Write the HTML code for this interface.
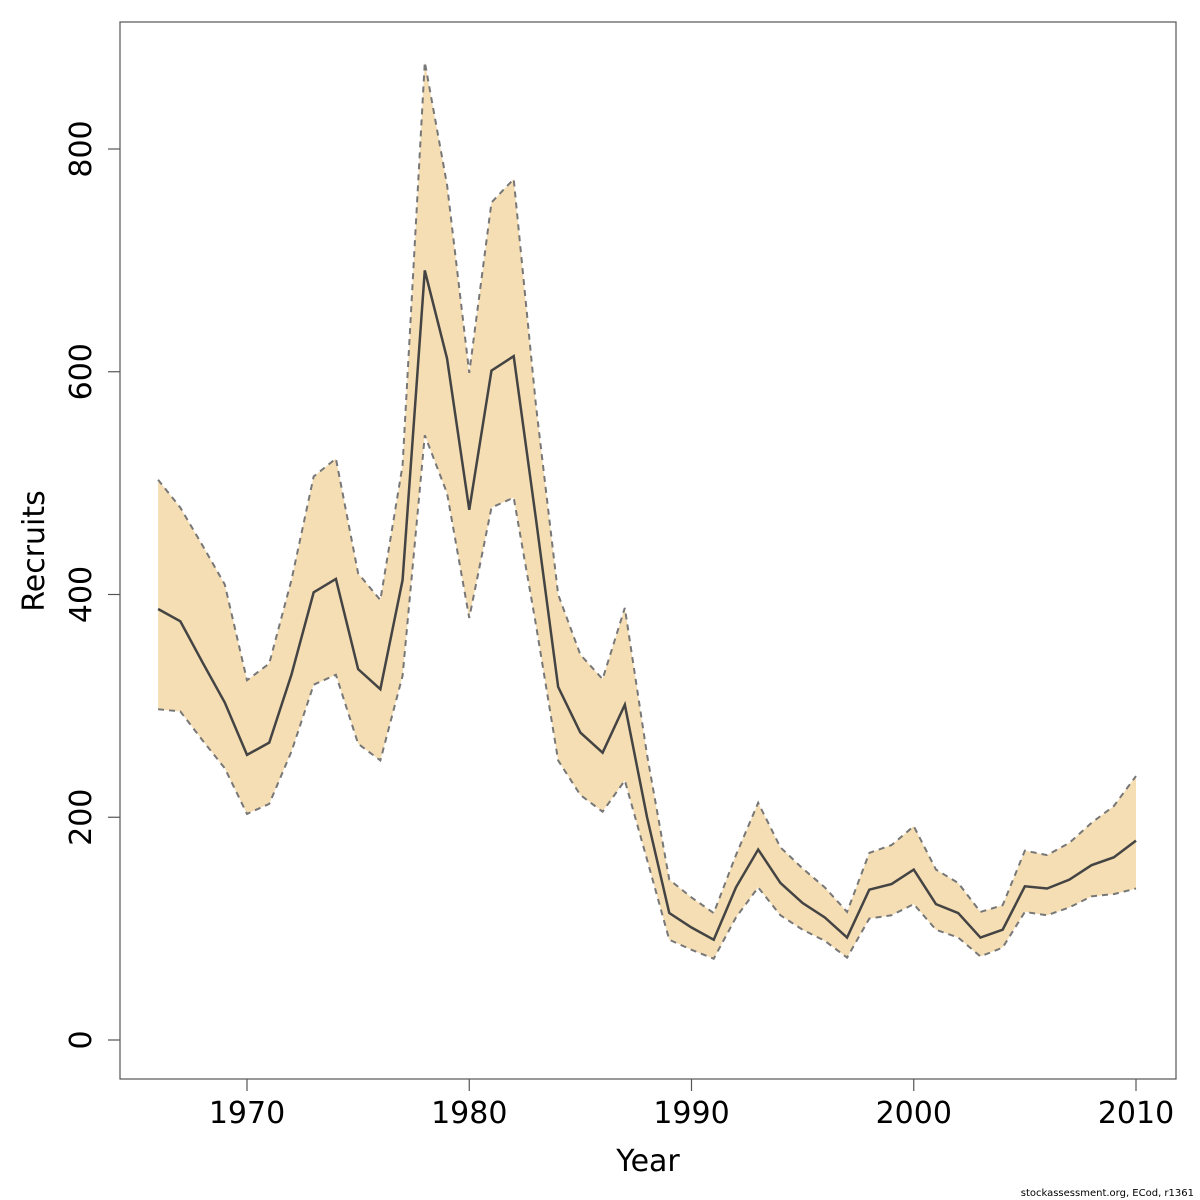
<!DOCTYPE html>
<html><head><meta charset="utf-8"><style>
html,body{margin:0;padding:0;background:#fff;}
svg{display:block;font-family:"DejaVu Sans","Liberation Sans",sans-serif;}
</style></head><body>
<svg id="chart" width="1200" height="1200" viewBox="0 0 1200 1200" xmlns="http://www.w3.org/2000/svg">
<rect x="0" y="0" width="1200" height="1200" fill="#fff"/>
<g id="plot"></g>
<rect x="120" y="22" width="1056" height="1057" fill="none" stroke="#555" stroke-width="1.2"/>
<g id="axes"></g>
<text x="648" y="1171" font-size="30" text-anchor="middle" fill="#000">Year</text>
<text x="0" y="0" font-size="30" text-anchor="middle" fill="#000" transform="translate(44,551) rotate(-90)">Recruits</text>
<text x="1194" y="1196" font-size="10" text-anchor="end" fill="#000">stockassessment.org, ECod, r1361</text>
</svg>
<script>
const years = [1966,1967,1968,1969,1970,1971,1972,1973,1974,1975,1976,1977,1978,1979,1980,1981,1982,1983,1984,1985,1986,1987,1988,1989,1990,1991,1992,1993,1994,1995,1996,1997,1998,1999,2000,2001,2002,2003,2004,2005,2006,2007,2008,2009,2010];
const estimate = [387,376,339,303,256,267,328,402,414,333,315,413,691,612,476,601,614,468,317,276,258,301,200,114,101,90,137,171,141,123,110,92,135,140,153,122,114,92,99,138,136,144,157,164,179];
const upper = [503,478,444,409,323,338,413,506,522,419,395,516,878,768,599,752,773,570,400,346,324,388,256,144,128,114,166,213,173,154,137,115,168,175,192,153,141,115,121,170,166,177,195,210,237];
const lower = [297,295,269,244,203,212,259,319,328,266,251,327,543,491,379,478,487,373,251,220,205,233,162,90,81,73,110,137,112,99,89,74,109,112,122,99,92,75,83,115,112,119,129,131,136];
const xTicks = [1970,1980,1990,2000,2010];
const yTicks = [0,200,400,600,800];

const NS='http://www.w3.org/2000/svg';
function xs(v){return 247+(v-1970)*(1136-247)/40;}
function ys(v){return 1040-v*(1040-149)/800;}
const plot=document.getElementById('plot');
const axes=document.getElementById('axes');
function mk(tag,attrs,parent){const e=document.createElementNS(NS,tag);for(const k in attrs)e.setAttribute(k,attrs[k]);parent.appendChild(e);return e;}

let bandD='M'+years.map((y,i)=>xs(y)+','+ys(upper[i])).join(' L');
for(let i=years.length-1;i>=0;i--) bandD+=' L'+xs(years[i])+','+ys(lower[i]);
bandD+=' Z';
const band=mk('path',{d:bandD,fill:'#f5deb3',stroke:'none'},plot);



const up=mk('polyline',{points:years.map((y,i)=>xs(y)+','+ys(upper[i])).join(' '),fill:'none',stroke:'#777','stroke-width':2,'stroke-dasharray':'6,5'},plot);


const lo=mk('polyline',{points:years.map((y,i)=>xs(y)+','+ys(lower[i])).join(' '),fill:'none',stroke:'#777','stroke-width':2,'stroke-dasharray':'6,5'},plot);


const est=mk('polyline',{points:years.map((y,i)=>xs(y)+','+ys(estimate[i])).join(' '),fill:'none',stroke:'#444','stroke-width':2.5},plot);



xTicks.forEach(t=>{
  const l=mk('line',{x1:xs(t),x2:xs(t),y1:1079,y2:1091,stroke:'#555','stroke-width':1.2},axes);
  
  
  const tx=mk('text',{x:xs(t),y:1123,'font-size':30,'text-anchor':'middle',fill:'#000'},axes);
  tx.textContent=t;
  
  
});
yTicks.forEach(t=>{
  const l=mk('line',{x1:108,x2:120,y1:ys(t),y2:ys(t),stroke:'#555','stroke-width':1.2},axes);
  
  
  const tx=mk('text',{x:0,y:0,'font-size':30,'text-anchor':'middle',fill:'#000',transform:'translate(91,'+ys(t)+') rotate(-90)'},axes);
  tx.textContent=t;
  
  
});
</script>
</body></html>
